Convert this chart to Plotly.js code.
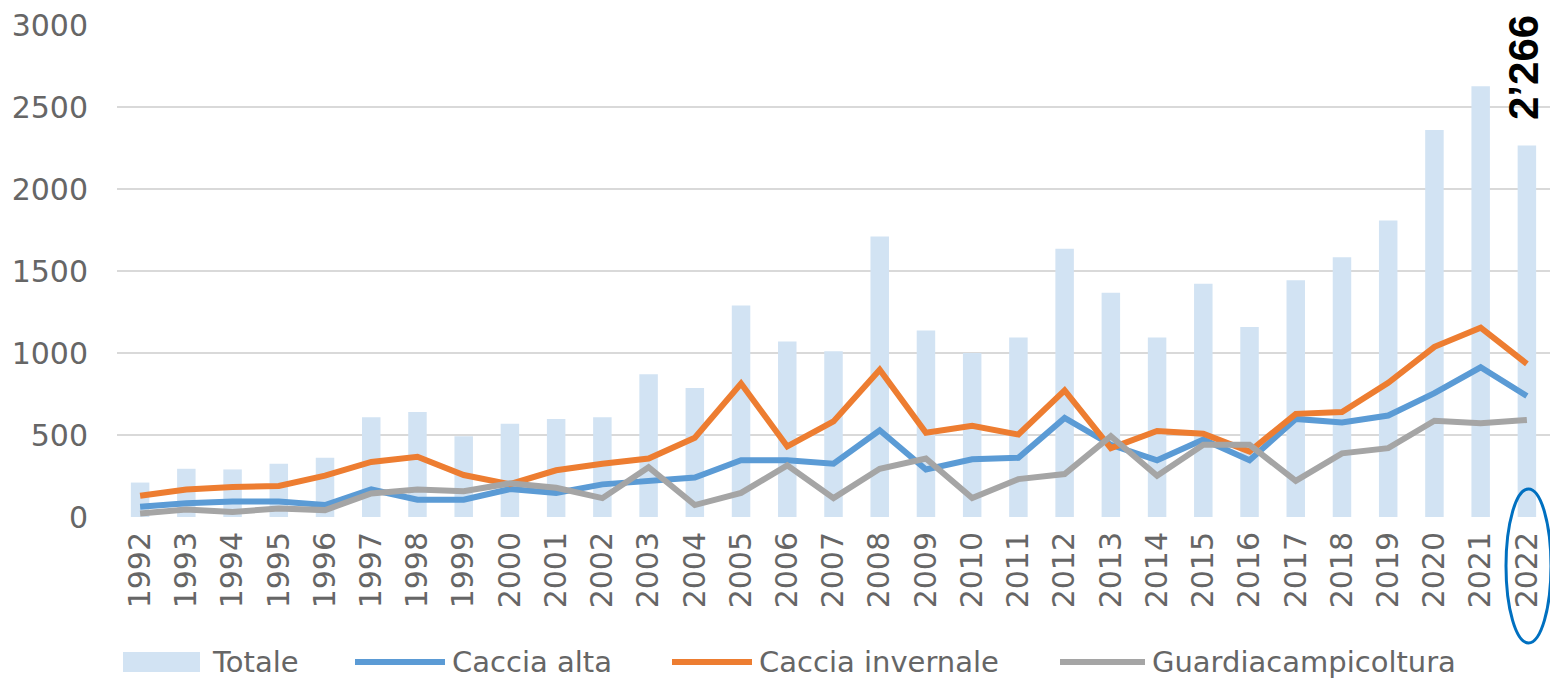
<!DOCTYPE html>
<html>
<head>
<meta charset="utf-8">
<script src="https://cdn.plot.ly/plotly-3.0.1.min.js"></script>
<style>html,body{margin:0;padding:0;background:#fff;}#chart{width:1550px;height:678px;}</style>
</head>
<body>
<div id="chart"></div>
<script>
const years = ['1992','1993','1994','1995','1996','1997','1998','1999','2000','2001','2002','2003','2004','2005','2006','2007','2008','2009','2010','2011','2012','2013','2014','2015','2016','2017','2018','2019','2020','2021','2022'];
const totale = [210,294,290,325,361,608,640,493,568,598,608,871,787,1290,1070,1010,1710,1137,1000,1095,1636,1368,1095,1422,1158,1443,1584,1808,2360,2627,2266];
const cacciaAlta = [63,84,94,94,73,168,105,105,170,147,199,220,241,346,346,325,529,290,352,361,604,440,346,472,346,598,577,619,755,913,738];
const cacciaInvernale = [130,168,183,189,252,336,367,256,200,285,325,357,483,814,430,583,898,514,556,503,772,420,524,508,399,629,640,818,1038,1154,934];
const guardia = [21,46,31,52,42,143,168,157,205,178,115,304,73,147,315,115,294,357,115,231,262,493,252,440,440,220,388,420,587,571,592];
const legendNames = ['Totale','Caccia alta','Caccia invernale','Guardiacampicoltura'];
const colors = ['#D2E3F3','#5B9BD5','#ED7D31','#A5A5A5'];
const highlightLabel = '2\u2019266';

const font = 'DejaVu Sans, sans-serif';
const grey = '#666666';

const traces = [
  {type:'bar', x:years, y:totale, name:legendNames[0], marker:{color:colors[0]}, showlegend:false},
  {type:'scatter', mode:'lines', x:years, y:cacciaAlta, name:legendNames[1], line:{color:colors[1], width:6}, showlegend:false},
  {type:'scatter', mode:'lines', x:years, y:cacciaInvernale, name:legendNames[2], line:{color:colors[2], width:6}, showlegend:false},
  {type:'scatter', mode:'lines', x:years, y:guardia, name:legendNames[3], line:{color:colors[3], width:6}, showlegend:false}
];

// custom legend in paper coordinates
const L = 117, W = 1433, T = 25, H = 492;
const px = v => (v - L) / W;
const py = v => (T + H - v) / H;
const legY = 662;
const legItems = [
  {kind:'box', x0:123, x1:200, tx:210},
  {kind:'line', x0:355, x1:445, tx:450},
  {kind:'line', x0:672, x1:752, tx:757},
  {kind:'line', x0:1060, x1:1145, tx:1150}
];
const shapes = [];
const annotations = [];
legItems.forEach((it, i) => {
  if (it.kind === 'box') {
    shapes.push({type:'rect', xref:'paper', yref:'paper', x0:px(it.x0), x1:px(it.x1), y0:py(legY+10), y1:py(legY-10), fillcolor:colors[i], line:{width:0}});
  } else {
    shapes.push({type:'line', xref:'paper', yref:'paper', x0:px(it.x0), x1:px(it.x1), y0:py(legY), y1:py(legY), line:{color:colors[i], width:6}});
  }
  annotations.push({xref:'paper', yref:'paper', x:px(it.tx), y:py(legY), xanchor:'left', yanchor:'middle', showarrow:false, text:legendNames[i], font:{family:font, size:29, color:grey}});
});
// ellipse around 2022 label
shapes.push({type:'circle', xref:'paper', yref:'paper', x0:px(1506), x1:px(1551), y0:py(643), y1:py(489), line:{color:'#0070C0', width:3}});
// highlighted value
annotations.push({xref:'paper', yref:'paper', x:px(1523), y:py(68), xanchor:'center', yanchor:'middle', showarrow:false, textangle:-90, borderpad:0, text:'<b>'+highlightLabel+'</b>', font:{family:'Liberation Sans, Arial, sans-serif', size:42, color:'#000'}});

const layout = {
  width:1550, height:678,
  margin:{l:L, r:1550-L-W, t:T, b:678-T-H},
  paper_bgcolor:'#fff', plot_bgcolor:'#fff',
  bargap:0.6,
  showlegend:false,
  xaxis:{type:'category', tickangle:-90, showgrid:false, zeroline:false, showline:false, ticks:'', ticklabelstandoff:8, tickfont:{family:font, size:30, color:grey}},
  yaxis:{range:[0,3000], dtick:500, showgrid:true, gridcolor:'#D9D9D9', gridwidth:2, zeroline:false, showline:false, ticks:'', ticklabelstandoff:28, tickfont:{family:font, size:30, color:grey}},
  shapes:shapes,
  annotations:annotations
};
Plotly.newPlot('chart', traces, layout, {displayModeBar:false, staticPlot:true});
</script>
</body>
</html>
